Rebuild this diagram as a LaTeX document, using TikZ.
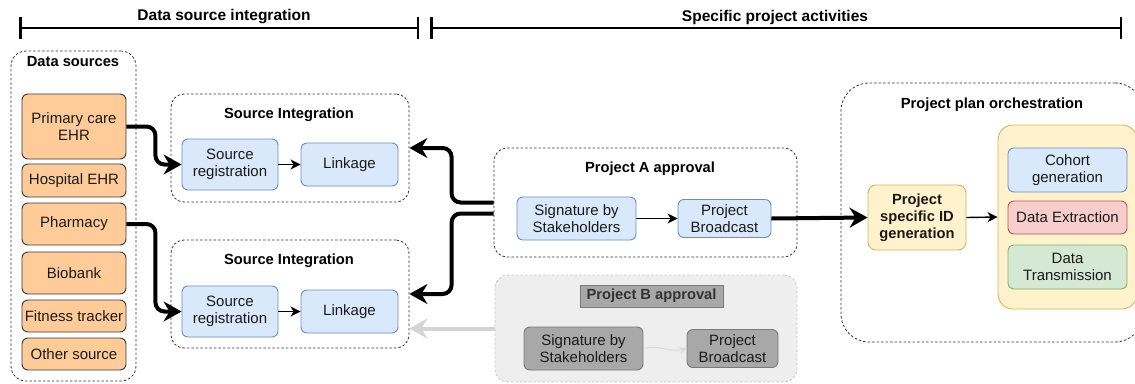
\documentclass[tikz,border=0pt]{standalone}
\usepackage{fontspec}
\setmainfont{Liberation Sans}
\usetikzlibrary{arrows.meta,calc}
\definecolor{orF}{HTML}{FFCC99}\definecolor{orD}{HTML}{36393D}
\definecolor{blF}{HTML}{DAE8FC}\definecolor{blD}{HTML}{6C8EBF}
\definecolor{yeF}{HTML}{FFF2CC}\definecolor{yeD}{HTML}{D6B656}
\definecolor{reF}{HTML}{F8CECC}\definecolor{reD}{HTML}{B85450}
\definecolor{grF}{HTML}{D5E8D4}\definecolor{grD}{HTML}{82B366}
\definecolor{pbF}{HTML}{EEEEEE}\definecolor{pbD}{HTML}{C8C8C8}
\definecolor{gbF}{HTML}{A8A8A8}\definecolor{gbD}{HTML}{7A7A7A}
\definecolor{txt}{HTML}{1A1A1A}
\definecolor{faint}{HTML}{D4D4D4}
\begin{document}
\begin{tikzpicture}[x=1pt,y=-1pt,
  box/.style={rounded corners=6pt, line width=0.9pt, align=center, inner sep=0pt,
    font=\fontsize{15}{17}\selectfont, text=txt},
  orbox/.style={box, fill=orF, draw=orD},
  blbox/.style={box, fill=blF, draw=blD},
  gbox/.style={box, fill=gbF, draw=gbD},
  container/.style={draw=black!80, dash pattern=on 2.5pt off 2pt, line width=0.8pt, inner sep=0pt},
  ttl/.style={font=\bfseries\fontsize{14.7}{17}\selectfont, inner sep=0pt, text=black},
  bigarrow/.style={line width=4pt, -{Stealth[length=18pt,width=20pt,inset=6pt]}, rounded corners=9pt},
  thinarrow/.style={line width=1.4pt, -{Stealth[length=10pt,width=10pt,inset=3pt]}},
  bracket/.style={line width=2.5pt, {Bar[width=22pt]}-{Bar[width=22pt]}},
  sz/.style 2 args={minimum width=#1pt, minimum height=#2pt}
]
\useasboundingbox (0,0) rectangle (1135,383);
\clip (0,0) rectangle (1135,383);

% top brackets
\coordinate (b1l) at (19,28); \coordinate (b1r) at (419,28);
\coordinate (b2l) at (430,28); \coordinate (b2r) at (1122,28);
\draw[bracket] (b1l) -- (b1r);
\draw[bracket] (b2l) -- (b2r);
\node[ttl, font=\bfseries\fontsize{15.5}{18}\selectfont] (t1) at (224,17) {Data source integration};
\node[ttl, font=\bfseries\fontsize{15.5}{18}\selectfont] (t2) at (775,17) {Specific project activities};

% data sources
\node[container, rounded corners=15pt, sz={125}{330}] (ds) at (73.5,216) {};
\node[ttl] (dst) at (73,62) {Data sources};
\node[orbox, sz={104}{65}] (pc) at (74,126.5) {Primary care\\EHR};
\node[orbox, sz={104}{33}] (hos) at (74,180.5) {Hospital EHR};
\node[orbox, sz={104}{42}] (ph) at (74,224) {Pharmacy};
\node[orbox, sz={104}{42}] (bio) at (74,273) {Biobank};
\node[orbox, sz={104}{32}] (fit) at (74,316) {Fitness tracker};
\node[orbox, sz={104}{32}] (oth) at (74,354) {Other source};

% source integration 1
\node[container, rounded corners=13pt, sz={238}{108}] (si1) at (290,148) {};
\node[ttl] (si1t) at (289,115) {Source Integration};
\node[blbox, sz={96}{51}] (sr1) at (230,164.5) {Source\\registration};
\node[blbox, sz={97}{43}] (lk1) at (349.5,164.5) {Linkage};
% source integration 2
\node[container, rounded corners=13pt, sz={238}{108}] (si2) at (290,294) {};
\node[ttl] (si2t) at (289,261) {Source Integration};
\node[blbox, sz={96}{51}] (sr2) at (230,311.5) {Source\\registration};
\node[blbox, sz={97}{43}] (lk2) at (349.5,311.5) {Linkage};

% project A
\node[container, rounded corners=13pt, sz={303}{109}] (pa) at (645.5,202.5) {};
\node[ttl] (pat) at (650,169) {Project A approval};
\node[blbox, sz={119}{43}] (sigA) at (576.5,218.5) {Signature by\\Stakeholders};
\node[blbox, sz={93}{38}] (bcA) at (724.5,218.5) {Project\\Broadcast};

% project B
\node[draw=pbD, fill=pbF, dash pattern=on 2.5pt off 2pt, line width=0.8pt, rounded corners=13pt, sz={302}{107}, inner sep=0pt] (pb) at (646,328.5) {};
\node[ttl, fill=gbF, draw=gbD, line width=0.9pt, text=black!80, sz={143}{22}] (pbt) at (651.5,296) {Project B approval};
\node[gbox, sz={119}{43}] (sigB) at (583.5,348.5) {Signature by\\Stakeholders};
\node[gbox, sz={91}{38}] (bcB) at (732.5,348.5) {Project\\Broadcast};

% orchestration
\node[container, rounded corners=28pt, sz={302}{259}] (orch) at (992,212.5) {};
\node[ttl] (orcht) at (992,105) {Project plan orchestration};
\node[box, fill=yeF, draw=yeD, rounded corners=8pt, sz={98}{65}, font=\bfseries\fontsize{14.7}{17}\selectfont] (id) at (917,217.5) {Project\\specific ID\\generation};
\node[box, fill=yeF, draw=yeD, rounded corners=15pt, sz={139}{184}] (yel) at (1067.5,217) {};
\node[blbox, sz={119}{44}] (coh) at (1067.5,170) {Cohort\\generation};
\node[box, fill=reF, draw=reD, sz={119}{33}] (ext) at (1067.5,217.5) {Data Extraction};
\node[box, fill=grF, draw=grD, sz={119}{44}] (trn) at (1067.5,267) {Data\\Transmission};

% connectors
\draw[bigarrow] (pc.east) -- ++(29,0) |- (sr1.west);
\draw[bigarrow] (ph.east) -- ++(29,0) |- (sr2.west);
\draw[thinarrow] (sr1.east) -- (lk1.west);
\draw[thinarrow] (sr2.east) -- (lk2.west);
\draw[bigarrow] (pa.west) -- ++(-42,0) |- (si1.east);
\draw[bigarrow] ($(pa.west)+(0,11)$) -- ++(-42,0) |- (si2.east);
\draw[bigarrow, draw=faint] (pb.west) -- (pb.west -| si2.east);
\draw[thinarrow] (sigA.east) -- (bcA.west);
\draw[line width=1pt, draw=black!15, -{Stealth[length=7pt,width=7pt]}] (sigB.east) .. controls ($(sigB.east)+(15,-4)$) and ($(bcB.west)+(-15,4)$) .. (bcB.west);
\draw[bigarrow] (bcA.east) -- (id.west);
\draw[thinarrow] (id.east) -- (yel.west);
\end{tikzpicture}
\end{document}
